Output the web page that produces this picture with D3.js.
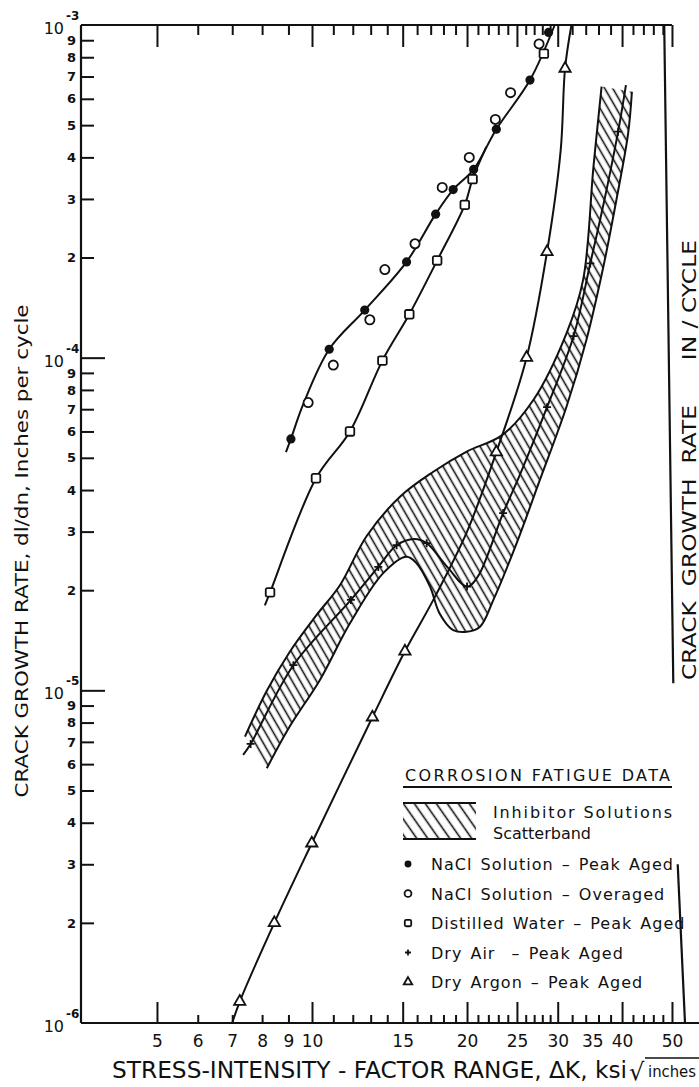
<!DOCTYPE html>
<meta charset="utf-8" />
<style>
  body { margin: 0; background: #fff; }
  svg text { font-family: "DejaVu Sans", sans-serif; fill: #111; }
</style>
<body>
  <div id="my_dataviz"></div>
  <script src="https://d3js.org/d3.v7.min.js"></script>
  <script>
    // ---- values: [delta K (ksi*sqrt(in)), rate (in/cycle)] ----
    var xTickLabels = [5, 6, 7, 8, 9, 10, 15, 20, 25, 30, 35, 40, 50];
    var xMajorTicks = [5, 10, 15, 20, 25, 30, 40, 50];
    var xMinorTicks = [6, 7, 8, 9, 11, 12, 13, 14, 16, 17, 18, 19, 21, 22, 23, 24,
                       26, 27, 28, 29, 32, 34, 36, 38, 42, 44, 46, 48];
    var yDecades = [1e-5, 1e-4];
    var yDecadeLabels = [[1e-6, "-6"], [1e-5, "-5"], [1e-4, "-4"], [1e-3, "-3"]];
    var yMinorDigits = [2, 3, 4, 5, 6, 7, 8, 9];

    var naclPeak = [[9.1, 5.7e-5], [10.8, 1.06e-4], [12.66, 1.39e-4], [15.26, 1.94e-4],
      [17.38, 2.7e-4], [18.8, 3.2e-4], [20.6, 3.68e-4], [22.8, 4.86e-4],
      [26.5, 6.83e-4], [28.8, 9.5e-4]];
    var naclOver = [[9.83, 7.33e-5], [11.0, 9.5e-5], [12.95, 1.3e-4], [13.85, 1.84e-4],
      [15.85, 2.2e-4], [17.9, 3.25e-4], [20.2, 4.0e-4], [22.7, 5.2e-4],
      [24.3, 6.26e-4], [27.6, 8.77e-4]];
    var naclLine = [[8.9, 5.2e-5], [9.1, 5.7e-5], [9.6, 7.2e-5], [10.8, 1.06e-4], [12.66, 1.39e-4],
      [15.26, 1.94e-4], [17.38, 2.7e-4], [18.8, 3.2e-4], [20.6, 3.68e-4], [22.8, 4.86e-4],
      [26.5, 6.83e-4], [29.6, 1e-3]];
    var water = [[8.29, 1.97e-5], [10.18, 4.34e-5], [11.85, 6.0e-5], [13.7, 9.8e-5],
      [15.45, 1.35e-4], [17.5, 1.96e-4], [19.8, 2.88e-4], [20.5, 3.44e-4], [28.2, 8.2e-4]];
    var waterLine = [[8.1, 1.8e-5], [8.29, 1.97e-5], [10.18, 4.34e-5], [11.85, 6.0e-5],
      [13.7, 9.8e-5], [15.45, 1.35e-4], [17.5, 1.96e-4], [19.8, 2.88e-4], [20.5, 3.44e-4],
      [21.8, 4.3e-4]];
    var argon = [[7.24, 1.16e-6], [8.45, 2.0e-6], [9.99, 3.47e-6], [13.1, 8.3e-6],
      [15.15, 1.31e-5], [22.8, 5.2e-5], [26.1, 1.0e-4], [28.6, 2.08e-4], [31.0, 7.4e-4]];
    var argonLine = [[7.0, 1e-6], [7.24, 1.16e-6], [8.45, 2.0e-6], [9.99, 3.47e-6],
      [13.1, 8.3e-6], [15.15, 1.31e-5], [17.2, 1.87e-5], [20.0, 3.0e-5], [22.8, 5.2e-5],
      [26.1, 1.0e-4], [28.6, 2.08e-4], [30.4, 4.2e-4], [31.0, 7.4e-4], [31.9, 1e-3]];
    var dryAir = [[7.6, 6.9e-6], [9.2, 1.19e-5], [11.9, 1.87e-5], [13.45, 2.35e-5],
      [14.6, 2.73e-5], [16.7, 2.77e-5], [20.0, 2.05e-5], [23.5, 3.41e-5], [28.6, 7.1e-5],
      [32.2, 1.16e-4], [34.7, 1.92e-4], [39.3, 4.78e-4]];
    var dryAirLine = [[7.35, 6.4e-6], [7.6, 6.9e-6], [9.2, 1.19e-5], [11.9, 1.87e-5],
      [13.45, 2.35e-5], [14.6, 2.73e-5], [15.8, 2.85e-5], [16.7, 2.77e-5], [18.3, 2.35e-5],
      [20.0, 2.05e-5], [21.0, 2.2e-5], [23.5, 3.41e-5], [25.4, 4.49e-5], [28.6, 7.1e-5],
      [32.2, 1.16e-4], [34.7, 1.92e-4], [37.0, 3.0e-4], [39.3, 4.78e-4], [40.7, 6.6e-4]];
    var bandUpper = [[7.41, 7.26e-6], [8.18, 1.0e-5], [9.05, 1.304e-5], [10.21, 1.685e-5],
      [11.33, 2.07e-5], [12.77, 2.91e-5], [14.82, 3.82e-5], [17.2, 4.54e-5], [19.97, 5.22e-5],
      [23.4, 5.85e-5], [26.9, 7.46e-5], [31.2, 1.184e-4], [33.6, 1.71e-4], [35.2, 3.75e-4],
      [36.5, 6.53e-4]];
    var bandLower = [[8.17, 5.83e-6], [9.05, 7.78e-6], [10.36, 1.075e-5], [11.85, 1.59e-5],
      [13.75, 2.25e-5], [15.26, 2.52e-5], [15.96, 2.41e-5], [16.95, 2.05e-5], [17.7, 1.7e-5],
      [18.8, 1.518e-5], [19.97, 1.5e-5], [21.2, 1.554e-5], [22.5, 1.87e-5], [24.97, 2.77e-5],
      [27.7, 4.29e-5], [31.2, 7.12e-5], [34.1, 1.13e-4], [36.8, 1.88e-4], [39.0, 2.98e-4],
      [41.1, 4.72e-4], [41.8, 6.3e-4]];
    var frameRight = [[[48.3, 1e-3], [50.3, 1.05e-5]], [[51.3, 3.0e-6], [53.0, 1e-6]]];

    var legendTitle = "CORROSION FATIGUE DATA";
    var legendBand = ["Inhibitor Solutions", "Scatterband"];
    var legendItems = [
      ["filled", "NaCl Solution \u2013 Peak Aged"],
      ["circle", "NaCl Solution \u2013 Overaged"],
      ["square", "Distilled Water \u2013 Peak Aged"],
      ["plus", "Dry Air  \u2013 Peak Aged"],
      ["triangle", "Dry Argon \u2013 Peak Aged"]
    ];

    var W = 699, H = 1087;
    var ink = "#111";

    var svg = d3.select("#my_dataviz").append("svg")
      .attr("width", W).attr("height", H)
      .style("background", "#fff");

    var x = d3.scaleLog().domain([3.56, 53]).range([81, 685]);
    var y = d3.scaleLog().domain([1e-6, 1e-3]).range([1023, 25]);

    // hatch patterns
    var defs = svg.append("defs");
    defs.append("pattern").attr("id", "hatch")
      .attr("patternUnits", "userSpaceOnUse")
      .attr("width", 7).attr("height", 7)
      .attr("patternTransform", "rotate(-30)")
      .append("line").attr("x1", 3.5).attr("y1", 0).attr("x2", 3.5).attr("y2", 7)
      .attr("stroke", ink).attr("stroke-width", 1.6);
    defs.append("pattern").attr("id", "hatchKey")
      .attr("patternUnits", "userSpaceOnUse")
      .attr("width", 9).attr("height", 9)
      .attr("patternTransform", "rotate(-35)")
      .append("line").attr("x1", 4.5).attr("y1", 0).attr("x2", 4.5).attr("y2", 9)
      .attr("stroke", ink).attr("stroke-width", 1.6);

    // ---- frame ----
    var frame = svg.append("g").attr("stroke", ink).attr("stroke-width", 2.2).attr("fill", "none");
    frame.append("line").attr("x1", x(3.56)).attr("y1", y(1e-3)).attr("x2", x(3.56)).attr("y2", y(1e-6));
    frame.append("line").attr("x1", x(3.56)).attr("y1", y(1e-6)).attr("x2", W).attr("y2", y(1e-6));
    frame.append("line").attr("x1", x(3.56)).attr("y1", y(1e-3)).attr("x2", x(50)).attr("y2", y(1e-3));
    frameRight.forEach(function(seg) {
      frame.append("line")
        .attr("x1", x(seg[0][0])).attr("y1", y(seg[0][1]))
        .attr("x2", x(seg[1][0])).attr("y2", y(seg[1][1]));
    });

    function styleAxis(g) {
      g.select(".domain").remove();
      g.selectAll("line").attr("stroke", ink).attr("stroke-width", 2);
      g.attr("font-family", null).attr("font-size", null);
    }

    // bottom ticks (pointing up)
    svg.append("g").attr("transform", "translate(0," + y(1e-6) + ")")
      .call(d3.axisBottom(x).tickValues(xMajorTicks).tickSize(-21).tickFormat(""))
      .call(styleAxis);
    svg.append("g").attr("transform", "translate(0," + y(1e-6) + ")")
      .call(d3.axisBottom(x).tickValues(xMinorTicks).tickSize(-8).tickFormat(""))
      .call(styleAxis);
    // top ticks (pointing down)
    svg.append("g").attr("transform", "translate(0," + y(1e-3) + ")")
      .call(d3.axisTop(x).tickValues(xMajorTicks).tickSize(-22).tickFormat(""))
      .call(styleAxis);
    svg.append("g").attr("transform", "translate(0," + y(1e-3) + ")")
      .call(d3.axisTop(x).tickValues(xMinorTicks).tickSize(-10).tickFormat(""))
      .call(styleAxis);
    // bottom labels
    var xl = svg.append("g").attr("transform", "translate(0," + y(1e-6) + ")")
      .call(d3.axisBottom(x).tickValues(xTickLabels).tickSize(0).tickPadding(12)
        .tickFormat(function(d) { return d; }))
      .call(styleAxis);
    xl.selectAll("text").attr("font-size", 17).attr("fill", ink);

    // left axis ticks (pointing right)
    var yMinor = [];
    [1e-6, 1e-5, 1e-4].forEach(function(dec) {
      yMinorDigits.forEach(function(m) { yMinor.push(dec * m); });
    });
    svg.append("g").attr("transform", "translate(" + x(3.56) + ",0)")
      .call(d3.axisRight(y).tickValues(yMinor).tickSize(13).tickFormat(""))
      .call(styleAxis);
    svg.append("g").attr("transform", "translate(" + x(3.56) + ",0)")
      .call(d3.axisRight(y).tickValues(yDecades).tickSize(24).tickFormat(""))
      .call(styleAxis);
    var yl = svg.append("g").attr("transform", "translate(" + x(3.56) + ",0)")
      .call(d3.axisLeft(y).tickValues(yMinor).tickSize(0).tickPadding(5)
        .tickFormat(function(d) { return Math.round(d / Math.pow(10, Math.floor(Math.log10(d) + 1e-9))); }))
      .call(styleAxis);
    yl.selectAll("text").attr("font-size", 13).attr("font-weight", "bold").attr("fill", ink);

    yDecadeLabels.forEach(function(d) {
      svg.append("text").attr("x", 64).attr("y", y(d[0]) + 9)
        .attr("text-anchor", "end").attr("font-size", 16).text("10");
      svg.append("text").attr("x", 66).attr("y", y(d[0]) - 5)
        .attr("font-size", 12).attr("font-weight", "bold").text(d[1]);
    });

    // ---- scatter band ----
    var curve = d3.line().x(function(d) { return x(d[0]); }).y(function(d) { return y(d[1]); })
      .curve(d3.curveCatmullRom.alpha(0.5));
    var bandD = curve(bandUpper) + curve(bandLower.slice().reverse()).replace(/^M/, "L") + "Z";
    svg.append("path").attr("d", bandD).attr("fill", "url(#hatch)").attr("stroke", "none");
    svg.append("path").attr("d", curve(bandUpper)).attr("fill", "none").attr("stroke", ink).attr("stroke-width", 2);
    svg.append("path").attr("d", curve(bandLower)).attr("fill", "none").attr("stroke", ink).attr("stroke-width", 2);

    // ---- curves ----
    [naclLine, waterLine, argonLine, dryAirLine].forEach(function(pts) {
      svg.append("path").attr("d", curve(pts)).attr("fill", "none")
        .attr("stroke", ink).attr("stroke-width", 2);
    });

    // ---- markers ----
    function marker(g, kind, size) {
      var s = size || 1;
      if (kind === "filled") {
        g.append("circle").attr("r", 4.6 * s).attr("fill", ink);
      } else if (kind === "circle") {
        g.append("circle").attr("r", 4.6 * s).attr("fill", "#fff").attr("stroke", ink).attr("stroke-width", 1.8);
      } else if (kind === "square") {
        g.append("rect").attr("x", -4.3 * s).attr("y", -4.3 * s).attr("width", 8.6 * s).attr("height", 8.6 * s)
          .attr("rx", 1.5).attr("fill", "#fff").attr("stroke", ink).attr("stroke-width", 1.8);
      } else if (kind === "triangle") {
        g.append("path").attr("d", d3.symbol(d3.symbolTriangle, 55 * s * s)())
          .attr("fill", "#fff").attr("stroke", ink).attr("stroke-width", 1.8);
      } else if (kind === "plus") {
        var r = 4 * s;
        g.append("path").attr("d", "M" + (-r) + ",0H" + r + "M0," + (-r) + "V" + r)
          .attr("stroke", ink).attr("stroke-width", 1.8);
      }
    }
    function drawSeries(data, kind) {
      svg.append("g").selectAll("g").data(data).enter().append("g")
        .attr("transform", function(d) { return "translate(" + x(d[0]) + "," + y(d[1]) + ")"; })
        .each(function() { marker(d3.select(this), kind); });
    }
    drawSeries(dryAir, "plus");
    drawSeries(argon, "triangle");
    drawSeries(water, "square");
    drawSeries(naclOver, "circle");
    drawSeries(naclPeak, "filled");

    // ---- legend ----
    var lg = svg.append("g");
    lg.append("text").attr("x", 405).attr("y", 781).attr("font-size", 16)
      .attr("textLength", 265).attr("lengthAdjust", "spacing").text(legendTitle);
    lg.append("line").attr("x1", 403).attr("x2", 672).attr("y1", 787).attr("y2", 787)
      .attr("stroke", ink).attr("stroke-width", 1.8);
    lg.append("rect").attr("x", 403).attr("y", 803).attr("width", 73).attr("height", 36)
      .attr("fill", "url(#hatchKey)");
    lg.append("line").attr("x1", 403).attr("x2", 476).attr("y1", 803).attr("y2", 803)
      .attr("stroke", ink).attr("stroke-width", 2);
    lg.append("line").attr("x1", 403).attr("x2", 476).attr("y1", 839).attr("y2", 839)
      .attr("stroke", ink).attr("stroke-width", 2);
    lg.append("text").attr("x", 493).attr("y", 818).attr("font-size", 16)
      .attr("textLength", 179).attr("lengthAdjust", "spacing").text(legendBand[0]);
    lg.append("text").attr("x", 493).attr("y", 839).attr("font-size", 16)
      .text(legendBand[1]);
    legendItems.forEach(function(item, i) {
      var yy = 864 + i * 29.5;
      var g = lg.append("g").attr("transform", "translate(408," + yy + ")");
      marker(g, item[0], 0.75);
      lg.append("text").attr("x", 431).attr("y", yy + 6).attr("font-size", 16)
        .attr("letter-spacing", 1).attr("word-spacing", 2)
        .attr("xml:space", "preserve").text(item[1]);
    });

    // ---- axis titles ----
    svg.append("text").attr("transform", "translate(28,551) rotate(-90)")
      .attr("text-anchor", "middle").attr("font-size", 18)
      .attr("textLength", 493).attr("lengthAdjust", "spacingAndGlyphs")
      .text("CRACK GROWTH RATE, dl/dn, Inches per cycle");

    svg.append("text").attr("x", 112).attr("y", 1078).attr("font-size", 23)
      .attr("textLength", 515).attr("lengthAdjust", "spacingAndGlyphs")
      .text("STRESS-INTENSITY - FACTOR RANGE, \u0394K, ksi");
    svg.append("text").attr("x", 629).attr("y", 1080).attr("font-size", 24).text("\u221A");
    svg.append("line").attr("x1", 645).attr("x2", W).attr("y1", 1058).attr("y2", 1058)
      .attr("stroke", ink).attr("stroke-width", 1.6);
    svg.append("text").attr("x", 648).attr("y", 1077).attr("font-size", 16)
      .attr("textLength", 48).attr("lengthAdjust", "spacingAndGlyphs").text("inches");

    // right-hand title at the page edge
    svg.append("text").attr("transform", "translate(696,460) rotate(-90)")
      .attr("text-anchor", "middle").attr("font-size", 19)
      .attr("textLength", 440).attr("lengthAdjust", "spacingAndGlyphs")
      .attr("xml:space", "preserve")
      .text("CRACK  GROWTH  RATE      IN / CYCLE");
  </script>
</body>
